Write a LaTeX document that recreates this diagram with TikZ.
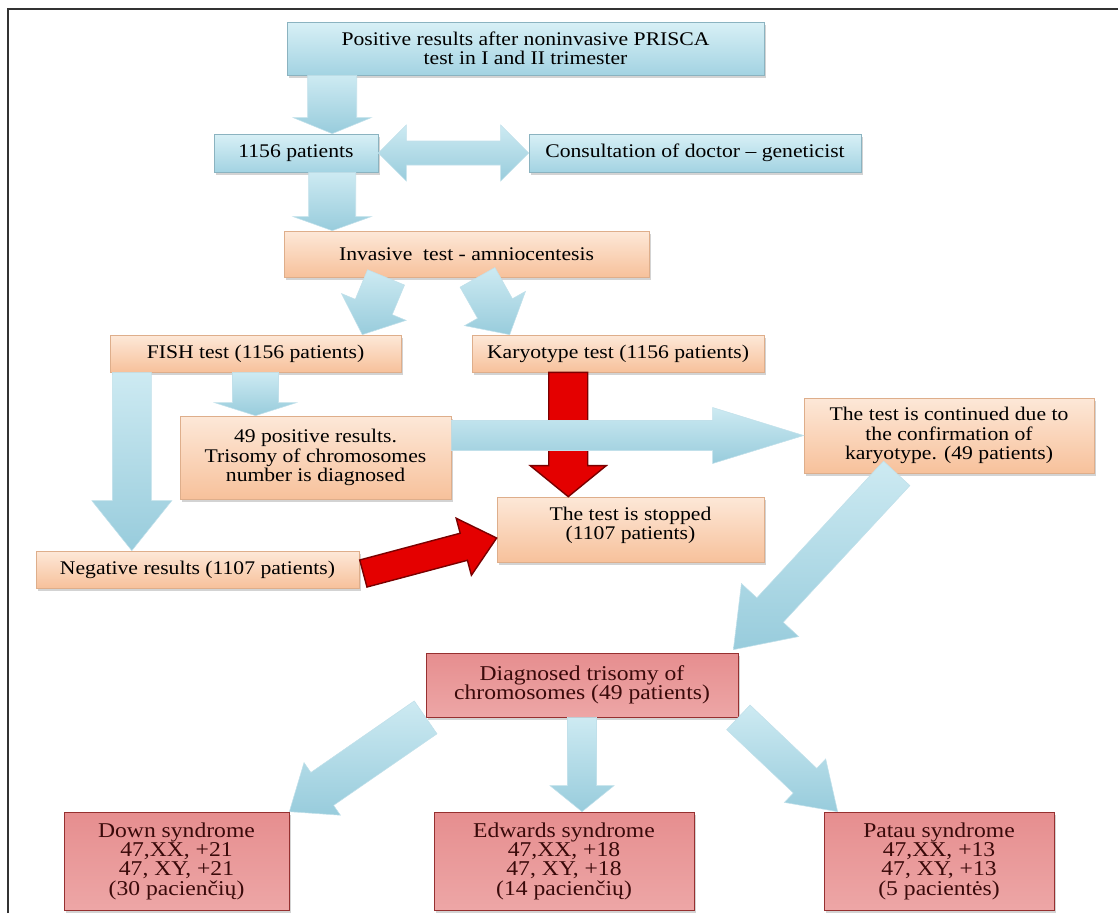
\documentclass[tikz,border=0pt]{standalone}
\usepackage{fontspec}
\setmainfont{Liberation Serif}[FakeStretch=1.12]
\usetikzlibrary{calc,shadows}

\definecolor{blueTop}{HTML}{D8F0F6}
\definecolor{blueBot}{HTML}{A3D3E2}
\definecolor{peachTop}{HTML}{FDE8D8}
\definecolor{peachBot}{HTML}{F7C19B}
\definecolor{roseTop}{HTML}{E68E8F}
\definecolor{roseMid}{HTML}{E07677}
\definecolor{roseBot}{HTML}{EDA6A6}
\definecolor{roseEdge}{HTML}{963030}
\definecolor{roseText}{HTML}{3A0A0A}
\definecolor{arrowTop}{HTML}{CDEAF2}
\definecolor{arrowBot}{HTML}{98CCDC}
\definecolor{redFill}{HTML}{E40000}
\definecolor{redEdge}{HTML}{7A0000}

% block arrow: style, from, to, shaft half width, head half width, head length (px)
\newcommand{\blockarrow}[6]{%
  \pgfmathsetlengthmacro\baShaft{#4*0.02cm}%
  \pgfmathsetlengthmacro\baHead{#5*0.02cm}%
  \pgfmathsetlengthmacro\baLen{#6*0.02cm}%
  \coordinate (ba-neck) at ($(#3)!\baLen!(#2)$);
  \path[#1] ($(#2)!\baShaft!90:(#3)$) -- ($(ba-neck)!\baShaft!-90:(#2)$)
    -- ($(ba-neck)!\baHead!-90:(#2)$) -- (#3) -- ($(ba-neck)!\baHead!90:(#2)$)
    -- ($(ba-neck)!\baShaft!90:(#2)$) -- ($(#2)!\baShaft!-90:(#3)$) -- cycle;
}
% same with a head at both ends
\newcommand{\dblblockarrow}[6]{%
  \pgfmathsetlengthmacro\baShaft{#4*0.02cm}%
  \pgfmathsetlengthmacro\baHead{#5*0.02cm}%
  \pgfmathsetlengthmacro\baLen{#6*0.02cm}%
  \coordinate (ba-neckA) at ($(#2)!\baLen!(#3)$);
  \coordinate (ba-neckB) at ($(#3)!\baLen!(#2)$);
  \path[#1] (#2) -- ($(ba-neckA)!\baHead!90:(#3)$) -- ($(ba-neckA)!\baShaft!90:(#3)$)
    -- ($(ba-neckB)!\baShaft!-90:(#2)$) -- ($(ba-neckB)!\baHead!-90:(#2)$) -- (#3)
    -- ($(ba-neckB)!\baHead!90:(#2)$) -- ($(ba-neckB)!\baShaft!90:(#2)$)
    -- ($(ba-neckA)!\baShaft!-90:(#3)$) -- ($(ba-neckA)!\baHead!-90:(#3)$) -- cycle;
}

\tikzset{
  wh/.style 2 args={minimum width=#1*0.02cm, minimum height=#2*0.02cm},
  box/.style={rectangle, align=center, inner sep=1pt, line width=0.4pt,
    font=\fontsize{11pt}{11.1pt}\selectfont,
    drop shadow={shadow xshift=1.2pt, shadow yshift=-1.6pt, opacity=0.35}},
  bluebox/.style={box, top color=blueTop, bottom color=blueBot, draw=blueBot!85!black},
  peachbox/.style={box, top color=peachTop, bottom color=peachBot, draw=peachBot!90!black},
  rosebox/.style={box, top color=roseTop, middle color=roseMid, bottom color=roseBot,
    draw=roseEdge, text=roseText, font=\fontsize{12pt}{11pt}\selectfont},
  bluearrow/.style={top color=arrowTop, bottom color=arrowBot, draw=arrowBot!60, line width=0.3pt},
  redarrow/.style={fill=redFill, draw=redEdge, line width=0.8pt, line join=miter},
  frame/.style={draw=black!80, line width=1.1pt}
}

\begin{document}
\begin{tikzpicture}[x=0.02cm, y=-0.02cm]
  \useasboundingbox (0,0) rectangle (1118,913);
  % page frame
  \draw[frame] (8,913) -- (8,9) -- (1118,9);

  % boxes
  \node[bluebox, wh={477}{53}] (prisca) at (525.5,48.5) {Positive results after noninvasive PRISCA\\test in I and II trimester};
  \node[bluebox, wh={164}{38}] (patients) at (296,153) {1156 patients};
  \node[bluebox, wh={332}{38}] (consult) at (695,153) {Consultation of doctor -- geneticist};
  \node[peachbox, wh={365}{46}] (invasive) at (466.5,254) {Invasive\ \ test - amniocentesis};
  \node[peachbox, wh={291}{37}] (fish) at (255.5,353.5) {FISH test (1156 patients)};
  \node[peachbox, wh={292}{37}] (karyo) at (618,353.5) {Karyotype test (1156 patients)};
  \node[peachbox, wh={271}{83}] (positive) at (315.5,457.5) {49 positive results.\\Trisomy of chromosomes\\number is diagnosed};
  \node[peachbox, wh={290}{75}] (continued) at (949,435.5) {The test is continued due to\\the confirmation of\\karyotype. (49 patients)};
  \node[peachbox, wh={267}{65}] (stopped) at (630.5,529.5) {The test is stopped\\(1107 patients)\\[-4pt]};
  \node[peachbox, wh={323}{37}] (negative) at (197.5,569.5) {Negative results (1107 patients)};
  \node[rosebox, wh={312}{64}] (trisomy) at (582,685) {Diagnosed trisomy of\\chromosomes (49 patients)};
  \node[rosebox, wh={225}{98}] (down) at (176.5,861) {Down syndrome\\47,XX, +21\\47, XY, +21\\(30 pacienčių)};
  \node[rosebox, wh={260}{98}] (edwards) at (564,861) {Edwards syndrome\\47,XX, +18\\47, XY, +18\\(14 pacienčių)};
  \node[rosebox, wh={230}{98}] (patau) at (939,861) {Patau syndrome\\47,XX, +13\\47, XY, +13\\(5 pacientės)};

  % arrow ends
  \coordinate (a1e) at ($(patients.north west)!0.72!(patients.north east)$);
  \coordinate (a4s) at ($(invasive.south west)!0.28!(invasive.south east)$);
  \coordinate (a4e) at ($(fish.north west)!0.866!(fish.north east)$);
  \coordinate (a5s) at ($(invasive.south west)!0.53!(invasive.south east)$);
  \coordinate (a5e) at ($(karyo.north west)!0.13!(karyo.north east)$);
  \coordinate (a6s) at ($(fish.south west)!0.076!(fish.south east)$);
  \coordinate (a9s) at ($(karyo.south west)!0.33!(karyo.south east)$);
  \coordinate (a10s) at ($(negative.east)+(4,4)$);
  \coordinate (a10e) at ($(stopped.west)+(0,8.5)$);
  \coordinate (a11s) at ($(continued.south west)!0.32!(continued.south east)$);
  \coordinate (a11e) at ($(trisomy.north east)+(-5,-3)$);
  \coordinate (a14e) at ($(patau.north west)+(14,0)$);

  % blue arrows
  \blockarrow{bluearrow}{a1e |- prisca.south}{a1e}{24.5}{39}{16}
  \dblblockarrow{bluearrow}{patients.east}{consult.west}{12}{28}{28}
  \blockarrow{bluearrow}{a1e |- patients.south}{a1e |- invasive.north}{23.5}{39}{14}
  \blockarrow{bluearrow}{a4s}{a4e}{20}{35}{30}
  \blockarrow{bluearrow}{a5s}{a5e}{20}{35}{30}
  \blockarrow{bluearrow}{a6s}{a6s |- negative.north}{19.5}{40}{50}
  \blockarrow{bluearrow}{fish.south}{fish.south |- positive.north}{23}{41}{13}
  % red arrows
  \blockarrow{redarrow}{a9s}{a9s |- stopped.north}{19.5}{38}{31}
  \blockarrow{redarrow}{a10s}{a10e}{14}{29.5}{34}
  % blue arrow over the red one
  \blockarrow{bluearrow}{positive.east |- continued.west}{continued.west}{15}{28}{91}
  \blockarrow{bluearrow}{a11s}{a11e}{18}{39}{54}
  \blockarrow{bluearrow}{trisomy.south west}{down.north east}{20}{32}{40}
  \blockarrow{bluearrow}{trisomy.south}{trisomy.south |- edwards.north}{14.5}{32}{26}
  \blockarrow{bluearrow}{trisomy.south east}{a14e}{17}{30}{45}
\end{tikzpicture}
\end{document}
